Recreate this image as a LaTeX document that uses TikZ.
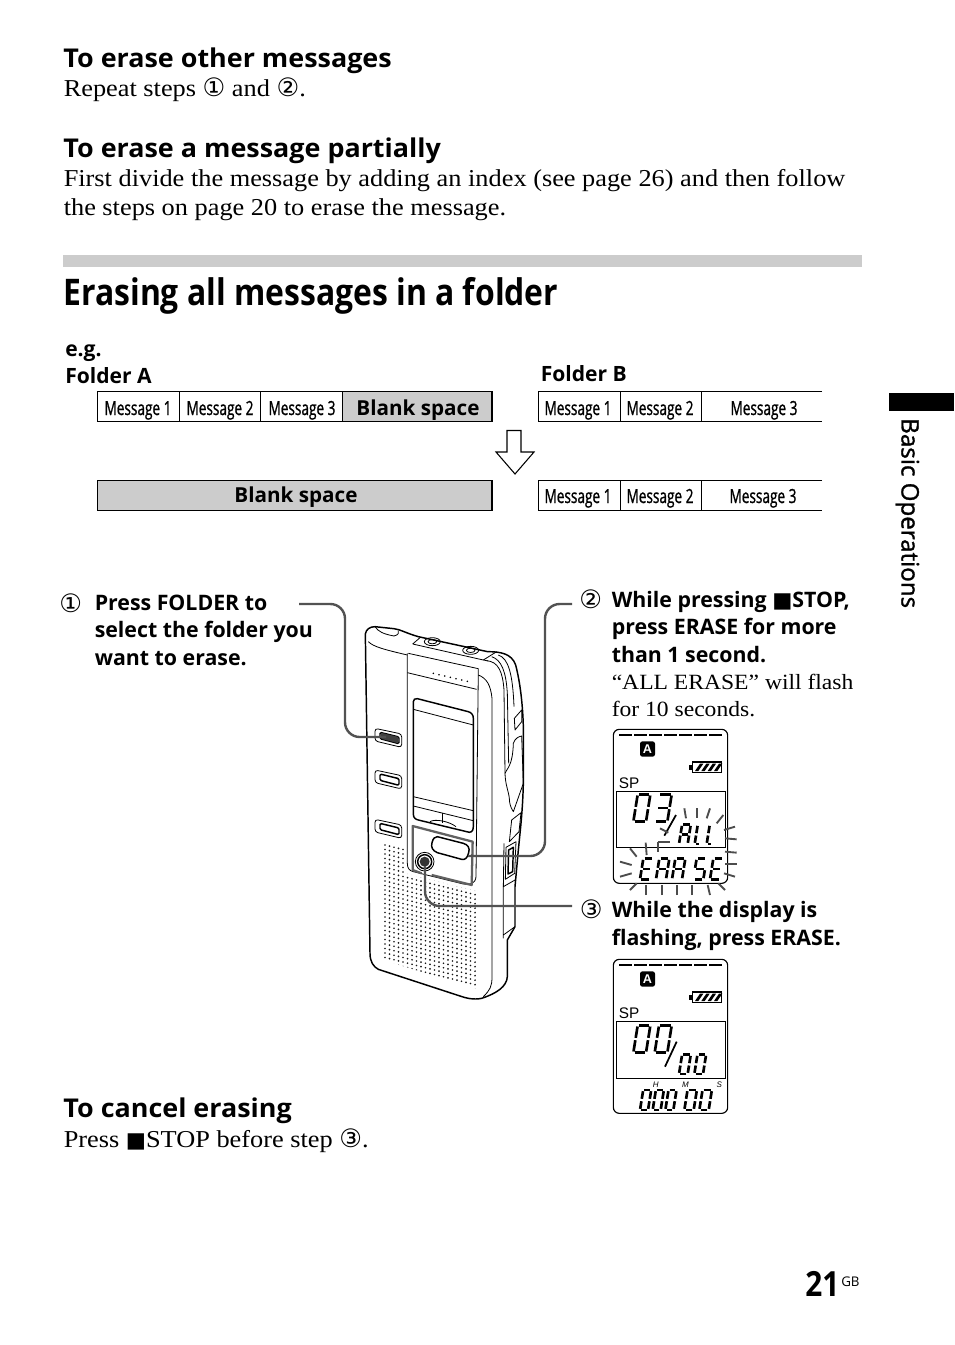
\documentclass[tikz,border=0pt]{standalone}
\usepackage{fontspec}
\setmainfont{Liberation Serif}
\newfontfamily\serf[FakeStretch=1.085]{Liberation Serif}
\newfontfamily\hd[FakeStretch=1.04]{Open Sans}
\newfontfamily\plain{Open Sans}
\newfontfamily\sidef[FakeBold=1.2]{Open Sans}
\newfontfamily\arl{Liberation Sans}
\newfontfamily\ttl[FakeStretch=0.87]{Open Sans}
\newfontfamily\cnd[FakeStretch=0.7,FakeBold=1.0]{Open Sans}
\newfontfamily\pgf[FakeStretch=0.86]{Open Sans}
\newfontfamily\sym{DejaVu Sans}
\newcommand\fsz[1]{\fontsize{#1}{#1}\selectfont}
\newcommand\cn[1]{{\sym\fontsize{19}{19}\selectfont #1}}
\newcommand\stp{{\sym\fontsize{16}{16}\selectfont ■}}
% seven-segment glyphs
\def\gzero{TL/TR,TR/MR,MR/BR,BR/BL,BL/ML,ML/TL}
\def\gthree{TL/TR,TR/MR,MR/BR,BR/BL,ML/MR}
\def\gA{TL/TR,TR/MR,MR/BR,BL/ML,ML/TL,ML/MR}
\def\gL{TL/ML,ML/BL,BL/BR}
\def\gE{TL/TR,TL/ML,ML/BL,BL/BR,ML/MR}
\def\gR{TL/TR,TR/MR,BL/ML,ML/TL,ML/MR,MR/BR}
\def\gS{TL/TR,TL/ML,ML/MR,MR/BR,BR/BL}
\newcommand\sevs[5]{%
\begin{scope}[shift={(#1,#2)},cm={1,0,0.16,1,(0,0)}]
\coordinate (TL) at (0,-#4);\coordinate (TR) at (#3,-#4);
\coordinate (ML) at (0,-#4/2);\coordinate (MR) at (#3,-#4/2);
\coordinate (BL) at (0,0);\coordinate (BR) at (#3,0);
\foreach \p/\q in #5 {\draw[lcdseg] (\p)--(\q);}
\end{scope}}
\newcommand\lcdframe{%
\draw[line width=.85pt,rounded corners=4.5pt] (40,28) rectangle (383,490);
\foreach \i in {0,...,6} \draw[line width=1.9pt] (58+\i*45,45)--(58+\i*45+38,45);
\fill[rounded corners=1.8pt] (120,64) rectangle (165,110);
\node[font=\arl\bfseries\fsz{9.5},text=white,inner sep=0pt] at (142.5,87.5) {A};
\draw[line width=1pt] (278,126)--(365,126)--(365,158)--(278,158)--cycle;
\fill (268,135) rectangle (278,150);
\foreach \i in {0,1,2,3} \fill (285+\i*19,153)--(295+\i*19,153)--(310+\i*19,131)--(300+\i*19,131)--cycle;
\node[font=\arl\fsz{11.5},anchor=base west,inner sep=0pt] at (56,205) {SP};
}
\tikzset{
 body/.style={font=\serf\fsz{18.2},anchor=base west,inner sep=0pt},
 head/.style={font=\hd\bfseries\fsz{19.4},anchor=base west,inner sep=0pt},
 stepb/.style={font=\plain\bfseries\fsz{16},anchor=base west,inner sep=0pt},
 stepr/.style={font=\serf\fsz{16.3},anchor=base west,inner sep=0pt},
 lab/.style={font=\plain\bfseries\fsz{15.8},anchor=base west,inner sep=0pt},
 msg/.style={font=\cnd\fsz{14.6},inner sep=0pt,anchor=base},
 blank/.style={font=\plain\bfseries\fsz{15.5},inner sep=0pt,anchor=base},
 tbl/.style={line width=.8pt},
 lead/.style={draw=black!68,line width=1.8pt,rounded corners=11pt},
 dev/.style={line width=.6pt,line join=round},
 devh/.style={line width=1.1pt,line join=round},
 lcdseg/.style={line width=2pt,shorten <=.9pt,shorten >=.9pt},
 ray/.style={draw=black!70,line width=1.4pt},
}
\begin{document}
\begin{tikzpicture}[x=0.75pt,y=-0.75pt]
\useasboundingbox (0,0) rectangle (954,1345);
\fill[white] (0,0) rectangle (954,1345);
% top text
\node[head] (h1) at (63.2,68) {To erase other messages};
\node[body] (t1) at (63.5,97) {Repeat steps \cn{①} and \cn{②}.};
\node[head] (h2) at (63.2,157) {To erase a message partially};
\node[body] (t2) at (63.5,186) {First divide the message by adding an index (see page 26) and then follow};
\node[body] (t3) at (63.5,215) {the steps on page 20 to erase the message.};
\fill[black!20] (63,255) rectangle (862,267);
\node[font=\ttl\bfseries\fsz{27.5},anchor=base west,inner sep=0pt] (title) at (63.2,305) {Erasing all messages in a folder};
% folder tables
\node[lab] (eg) at (65,356) {e.g.};
\node[lab] (fa) at (65,383) {Folder A};
\node[lab] (fb) at (540.5,381) {Folder B};
\fill[black!20] (342.5,391.5) rectangle (492,421.5);
\fill[black!20] (97.5,480.5) rectangle (492,510.5);
\draw[tbl] (97.5,391.5) rectangle (492,421.5);
\foreach \x in {179.5,260.5,342.5} \draw[tbl] (\x,391.5)--(\x,421.5);
\draw[tbl] (97.5,480.5) rectangle (492,510.5);
\node[msg] (a1) at (138,415) {Message 1};
\node[msg] (a2) at (220,415) {Message 2};
\node[msg] (a3) at (302,415) {Message 3};
\node[blank] (a4) at (418,415) {Blank space};
\node[blank] (a5) at (296,502) {Blank space};
\draw[tbl] (822,391.5)--(538.5,391.5)--(538.5,421.5)--(822,421.5);
\foreach \x in {620.5,701.5} \draw[tbl] (\x,391.5)--(\x,421.5);
\draw[tbl,line width=1.1pt] (822,480.5)--(538.5,480.5)--(538.5,510.5)--(822,510.5);
\foreach \x in {620.5,701.5} \draw[tbl] (\x,480.5)--(\x,510.5);
\node[msg] (b1) at (578,415) {Message 1};
\node[msg] (b2) at (660,415) {Message 2};
\node[msg] (b3) at (764,415) {Message 3};
\node[msg] (c1) at (578,503) {Message 1};
\node[msg] (c2) at (660,503) {Message 2};
\node[msg] (c3) at (763,503) {Message 3};
\draw[line width=.8pt,line join=miter] (507,430.5)--(521,430.5)--(521,452)--(534,452)--(515,474)--(496,452)--(507,452)--cycle;
% steps
\node[anchor=base west,inner sep=0pt] (n1) at (59,612) {\cn{①}};
\node[stepb] (s1a) at (94.5,610) {Press FOLDER to};
\node[stepb] (s1b) at (94.5,637) {select the folder you};
\node[stepb] (s1c) at (94.5,665) {want to erase.};
\node[anchor=base west,inner sep=0pt] (n2) at (579,608) {\cn{②}};
\node[stepb] (s2a) at (611.5,607) {While pressing \stp{}STOP,};
\node[stepb] (s2b) at (611.5,634) {press ERASE for more};
\node[stepb] (s2c) at (611.5,662) {than 1 second.};
\node[stepr] (s2d) at (611.5,689) {“ALL ERASE” will flash};
\node[stepr] (s2e) at (611.5,716) {for 10 seconds.};
\node[anchor=base west,inner sep=0pt] (n3) at (579.5,918) {\cn{③}};
\node[stepb] (s3a) at (611.5,917) {While the display is};
\node[stepb] (s3b) at (611.5,945) {flashing, press ERASE.};
\node[head] (h3) at (63.2,1117) {To cancel erasing};
\node[body] (t4) at (63.5,1147) {Press \stp{}STOP before step \cn{③}.};
% side tab
\fill (889,393) rectangle (954,411);
\node[font=\sidef\fsz{18.1},rotate=-90,anchor=base west,inner sep=0pt] (side) at (901.5,418) {Basic Operations};
\node[font=\pgf\bfseries\fsz{26},anchor=base west,inner sep=0pt] (pg) at (805,1296) {21};
\node[font=\plain\fsz{10},anchor=base west,inner sep=0pt] (gb) at (841,1286) {GB};
% recorder
\begin{scope}[shift={(350,610)},x=0.25pt,y=-0.25pt]
\begin{scope}
\clip (100,700)--(165,716)--(165,790)--(385,845)--(385,1138)--(100,1050)--cycle;
\foreach \i in {0,...,21} \foreach \j in {0,...,31}
  \fill[black!90] (105+\i*13.5,705+\j*13.5+\i*3.4) circle (2.8);
\end{scope}
% body outline
\draw[devh] (46,72) .. controls (48,58) and (60,50) .. (75,50) -- (132,56) .. controls (150,58) and (170,70) .. (205,80) -- (413,125)
 .. controls (450,125) and (485,130) .. (497,165) .. controls (510,215) and (518,280) .. (520,350) -- (520,520) .. controls (518,600) and (512,650) .. (505,720) -- (495,830) -- (495,950) -- (472,990) -- (472,1100) .. controls (470,1130) and (440,1150) .. (395,1165) .. controls (370,1170) and (350,1165) .. (330,1158) -- (85,1078) .. controls (70,1070) and (60,1055) .. (60,1030) -- cycle;
\draw[dev] (55,95) .. controls (70,110) and (100,118) .. (172,135);
% panel
\draw[dev] (175,130)--(385,176) (385,176) -- (378,800) .. controls (376,822) and (360,825) .. (340,822) -- (190,785) .. controls (178,782) and (172,775) .. (172,760) -- (172,130);
\draw[dev] (172,188)--(380,238);
\draw[dev] (385,195) .. controls (410,205) and (422,225) .. (426,265) -- (426,1100) .. controls (426,1130) and (420,1140) .. (400,1160);
\draw[dev] (410,152) .. controls (445,155) and (458,185) .. (462,240) -- (465,490);
\draw[dev] (425,140) .. controls (455,150) and (468,185) .. (472,250) -- (476,460);
\draw[dev] (445,135) .. controls (475,145) and (488,190) .. (492,290);
\draw[dev] (462,700)--(460,830)--(495,810);
\draw[dev] (460,830)--(460,985) (460,975)--(495,950);
\foreach \i in {0,...,6} \fill (250+\i*17,190+\i*4) circle (2.6);
% jacks
\draw[dev] (188,102)--(210,83) (188,102)--(400,150)--(415,153);
\draw[dev] (400,150)--(440,125);
\draw[dev] (247,95) ellipse (24 and 12);\draw[dev] (247,95) ellipse (13 and 6.5);
\draw[dev] (362,121) ellipse (24 and 12);\draw[dev] (362,121) ellipse (13 and 6.5);
\draw[dev] (75,50) .. controls (85,65) and (100,72) .. (132,78) .. controls (145,75) and (148,68) .. (145,62);
% screen
\draw[devh] (190,275) .. controls (190,268) and (195,265) .. (202,266) -- (355,305) .. controls (365,308) and (370,315) .. (370,325) -- (370,650) .. controls (370,665) and (362,670) .. (350,665) -- (205,630) .. controls (195,628) and (190,622) .. (190,612) -- cycle;
\draw[dev] (190,298)--(370,345);
\draw[dev] (190,560)--(370,602);
\draw[dev] (190,588)--(370,632);
\draw[dev] (278,608)--(278,638);
\draw[dev] (240,635) .. controls (255,625) and (300,635) .. (318,650);
% side controls
\draw[dev] (493,325)--(515,300)--(515,335)--(495,360)--cycle;
\draw[dev] (465,490) .. controls (470,475) and (488,470) .. (490,400) .. controls (495,385) and (505,380) .. (515,378) -- (520,520) -- (490,605) .. controls (480,590) and (478,575) .. (478,565) .. controls (475,540) and (466,525) .. (465,490) -- cycle;
\draw[dev] (485,630)--(513,608)--(507,665)--(478,695)--cycle;
\draw[devh] (476,720)--(490,712)--(488,785)--(474,792)--cycle;
\draw[dev] (468,712)--(498,695)--(494,790)--(466,808)--cycle;
% left buttons
\foreach \yy in {355,480,628} {
 \draw[dev,rounded corners=2.2pt] (75,\yy)--(155,\yy+17)--(155,\yy+57)--(75,\yy+38)--cycle;
 \draw[devh,rounded corners=1pt] (90,\yy+12)--(147,\yy+26)--(147,\yy+46)--(90,\yy+31)--cycle;
}
\fill[black!75,rounded corners=1pt] (92,368)--(146,381)--(146,400)--(92,386)--cycle;
% panel frame and buttons
\draw[black!62,line width=1.7pt,line join=round] (245,795)--(365,825)--(368,695)--(188,648)--(188,780)--(215,790);
\draw[devh] (262,680) -- (340,700) .. controls (355,704) and (360,715) .. (356,728) .. controls (352,745) and (345,750) .. (335,748) -- (262,728) .. controls (248,722) and (242,712) .. (246,698) .. controls (249,685) and (255,680) .. (262,680) -- cycle;
\draw[dev] (224,755) circle (28);
\draw[devh] (224,755) circle (21);
\fill[black!80] (224,755) circle (15);
\end{scope}
% leaders
\coordinate (l1a) at (299,604);\coordinate (l1b) at (345,604);\coordinate (l1c) at (345,737);\coordinate (l1d) at (386,737);
\coordinate (l2a) at (572,604);\coordinate (l2b) at (545,604);\coordinate (l2c) at (545,856);\coordinate (l2d) at (468,856);
\coordinate (l3a) at (572,906);\coordinate (l3b) at (425,906);\coordinate (l3c) at (425,866);
\draw[lead] (l1a)--(l1b)--(l1c)--(l1d);
\draw[lead] (l2a)--(l2b)--(l2c)--(l2d);
\draw[lead] (l3a)--(l3b)--(l3c);
% LCD 1
\begin{scope}[shift={(600,720)},x=0.25pt,y=-0.25pt]
\lcdframe
\draw[line width=.75pt] (50,215) rectangle (377,382);
\sevs{100}{305}{38}{82}{\gzero}
\sevs{164}{305}{38}{82}{\gthree}
\draw[line width=1.3pt] (228,285)--(193,347);
\sevs{237}{372}{26}{58}{\gA}
\sevs{284}{372}{18}{58}{\gL}
\sevs{320}{372}{18}{58}{\gL}
\sevs{120}{478}{30}{62}{\gE}
\sevs{168}{478}{30}{62}{\gR}
\sevs{216}{478}{30}{62}{\gA}
\sevs{280}{478}{30}{62}{\gS}
\sevs{330}{478}{30}{62}{\gE}
\foreach \a/\b/\c/\d in {253/265/258/295,290/265/290/295,330/265/320/295,370/285/350/310,405/320/372/330,410/358/375/355,410/398/375/395,410/432/375/432,405/470/372/460,375/510/355/490,330/525/323/495,275/525/275/495,230/525/230/495,185/525/185/495,137/525/137/495,90/510/110/490,60/470/95/460,60/425/95/435,90/385/110/410,137/368/140/405,175/395/175/365,175/365/210/365,180/325/205/338}
 \draw[ray] (\a,\b)--(\c,\d);
\end{scope}
% LCD 2
\begin{scope}[shift={(600,950)},x=0.25pt,y=-0.25pt]
\lcdframe
\draw[line width=.75pt] (50,215) rectangle (377,385);
\sevs{100}{308}{38}{82}{\gzero}
\sevs{164}{308}{38}{82}{\gzero}
\draw[line width=1.3pt] (230,275)--(195,350);
\sevs{237}{372}{26}{58}{\gzero}
\sevs{283}{372}{26}{58}{\gzero}
\sevs{120}{480}{24}{60}{\gzero}
\sevs{158}{480}{24}{60}{\gzero}
\sevs{196}{480}{24}{60}{\gzero}
\sevs{253}{480}{28}{60}{\gzero}
\sevs{298}{480}{28}{60}{\gzero}
\node[font=\arl\itshape\fsz{6},inner sep=0pt] (hh) at (167,403) {H};
\node[font=\arl\itshape\fsz{6},inner sep=0pt] (mm) at (256,403) {M};
\node[font=\arl\itshape\fsz{6},inner sep=0pt] (ss) at (358,403) {S};
\end{scope}
\end{tikzpicture}
\end{document}
